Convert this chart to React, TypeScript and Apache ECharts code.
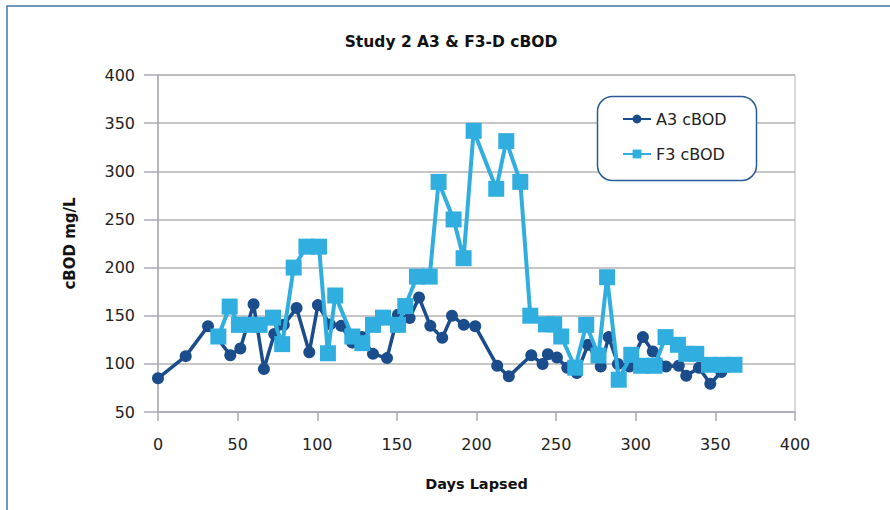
import React, { useEffect, useRef } from "react";
import * as echarts from "echarts";

const titleText = "Study 2 A3 & F3-D cBOD";
const xAxisTitle = "Days Lapsed";
const yAxisTitle = "cBOD mg/L";
const seriesNames = ["A3 cBOD", "F3 cBOD"];

const a3Days = [0, 17.4, 31.4, 45.4, 51.7, 60, 66.5, 73, 79, 87, 95, 100.4, 108, 115, 122, 128, 135, 143.8, 150.7, 158, 163.9, 171, 178.5, 184.6, 192, 199.2, 213, 220.3, 234.4, 241.5, 244.8, 250.5, 257, 263, 270, 278, 283, 288.8, 296, 304.5, 310.7, 319, 327, 331.7, 339.7, 346.8, 353.7];
const a3Values = [85, 108, 139, 109, 116, 162, 94.6, 131, 140.5, 158, 112, 161, 141, 139.5, 122, 128, 110.4, 106, 151, 147.5, 169, 139.5, 127, 150, 140.5, 139, 98, 87, 109, 99.8, 110, 106.6, 96, 90.4, 119.8, 97.3, 127.8, 99.8, 97.3, 127.8, 112.8, 97.3, 98, 87.6, 96, 79.3, 91.5];

const f3Days = [37.9, 45, 50.8, 57.6, 63.8, 72.2, 78, 85.2, 93.2, 101.1, 106.7, 111.3, 122, 128.3, 135, 141.3, 150.7, 155.3, 162.6, 170.6, 176.2, 185.6, 191.9, 198.2, 212.4, 218.7, 227.5, 233.8, 243.6, 248.8, 253.2, 262, 268.9, 276.6, 282, 289.3, 297.2, 303.4, 311.8, 318.7, 326.5, 331.7, 338, 346, 354, 362];
const f3Values = [128.4, 159.5, 140.5, 140.5, 140.5, 148, 120.5, 200, 221.7, 221.7, 111, 171, 128.4, 121.5, 140.5, 148, 140.5, 160, 190.6, 190.6, 289, 250, 209.7, 342, 281.8, 331.3, 289, 150, 141, 141, 128.4, 96, 140.5, 108.7, 190, 83.5, 109.4, 98, 98, 127.8, 119.8, 110.4, 110.4, 99, 99, 99];

const xTicks = { min: 0, max: 400, interval: 50 };
const yTicks = { min: 50, max: 400, interval: 50 };

const FONT = "DejaVu Sans";

export default function App() {
  const ref = useRef<HTMLDivElement>(null);
  useEffect(() => {
    if (!ref.current) return;
    const chart = echarts.init(ref.current, null, { renderer: "svg" });
    const a3Data = a3Days.map((d, i) => [d, a3Values[i]]);
    const f3Data = f3Days.map((d, i) => [d, f3Values[i]]);
    chart.setOption({
      animation: false,
      backgroundColor: "#ffffff",
      textStyle: { fontFamily: FONT },
      grid: {
        left: 158,
        right: 95,
        top: 75,
        bottom: 98,
        show: true,
        borderColor: "#b3b3b3",
        borderWidth: 1,
        outerBoundsMode: "none",
      },
      graphic: [
        {
          type: "rect",
          z: 0,
          silent: true,
          shape: { x: 7, y: 6, width: 2000, height: 2000 },
          style: { fill: "none", stroke: "#4674aa", lineWidth: 1.5 },
        },
        {
          type: "text",
          z: 5,
          x: 451,
          y: 42,
          style: {
            text: titleText,
            fontFamily: FONT,
            fontWeight: "bold",
            fontSize: 15.5,
            fill: "#111111",
            textAlign: "center",
            textVerticalAlign: "middle",
          },
        },
        {
          type: "rect",
          z: 3,
          shape: { x: 597.5, y: 96.5, width: 159, height: 84, r: 15 },
          style: { fill: "#ffffff", stroke: "#2d5a96", lineWidth: 1.5 },
        },
      ],
      legend: {
        z: 10,
        orient: "vertical",
        left: 622,
        top: 111,
        padding: 0,
        itemWidth: 28,
        itemHeight: 11,
        itemGap: 19,
        textStyle: { fontFamily: FONT, fontSize: 16, color: "#222222" },
        data: seriesNames,
      },
      xAxis: {
        type: "value",
        min: xTicks.min,
        max: xTicks.max,
        interval: xTicks.interval,
        name: xAxisTitle,
        nameLocation: "middle",
        nameGap: 64,
        nameTextStyle: { fontFamily: FONT, fontWeight: "bold", fontSize: 14.5, color: "#111111" },
        axisLine: { show: true, onZero: false, lineStyle: { color: "#a9abb3", width: 1.5 } },
        axisTick: { show: true, length: 9, inside: false, lineStyle: { color: "#a9abb3", width: 1.5 } },
        axisLabel: { fontFamily: FONT, fontSize: 16, color: "#222222", margin: 24 },
        splitLine: { show: false },
      },
      yAxis: {
        type: "value",
        min: yTicks.min,
        max: yTicks.max,
        interval: yTicks.interval,
        name: yAxisTitle,
        nameLocation: "middle",
        nameGap: 81,
        nameRotate: 90,
        nameTextStyle: { fontFamily: FONT, fontWeight: "bold", fontSize: 15, color: "#111111" },
        axisLine: { show: true, onZero: false, lineStyle: { color: "#a9abb3", width: 1.5 } },
        axisTick: { show: true, length: 14, inside: false, lineStyle: { color: "#a9abb3", width: 1.5 } },
        axisLabel: { fontFamily: FONT, fontSize: 16, color: "#222222", margin: 23 },
        splitLine: { show: true, lineStyle: { color: "#b3b3b3", width: 1.5 } },
      },
      series: [
        {
          name: seriesNames[0],
          type: "line",
          data: a3Data,
          symbol: "circle",
          symbolSize: 12,
          color: "#1b4c8b",
          lineStyle: { width: 3.5, color: "#1b4c8b" },
          itemStyle: { color: "#1b4c8b" },
          z: 2,
        },
        {
          name: seriesNames[1],
          type: "line",
          data: f3Data,
          symbol: "rect",
          symbolSize: 16,
          color: "#31aee0",
          lineStyle: { width: 4, color: "#31aee0" },
          itemStyle: { color: "#31aee0" },
          z: 3,
        },
      ],
    });
    return () => chart.dispose();
  }, []);
  return (
    <div
      ref={ref}
      style={{ position: "fixed", left: 0, top: 0, width: 890, height: 510 }}
    />
  );
}
